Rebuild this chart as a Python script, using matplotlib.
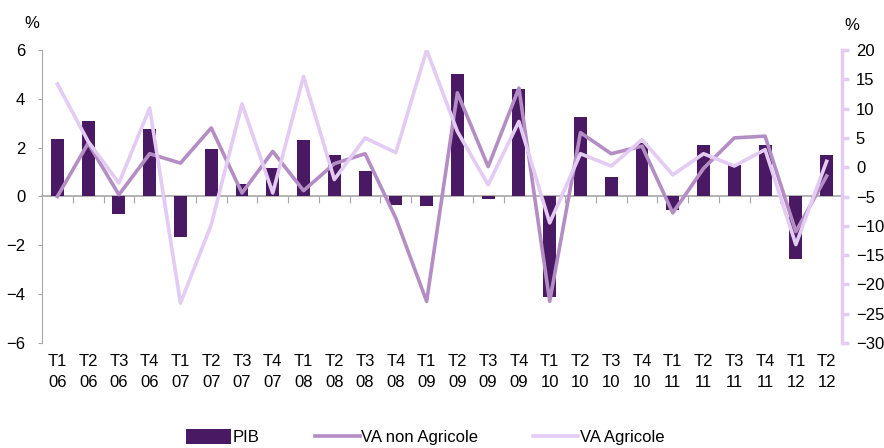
import numpy as np
import matplotlib
matplotlib.use('Agg')
import matplotlib.pyplot as plt

plt.rcParams['font.family'] = ['Liberation Sans', 'DejaVu Sans']
plt.rcParams['font.size'] = 12

quarters = ['T1', 'T2', 'T3', 'T4'] * 6 + ['T1', 'T2']
years = ['06'] * 4 + ['07'] * 4 + ['08'] * 4 + ['09'] * 4 + ['10'] * 4 + ['11'] * 4 + ['12'] * 2
labels = [q + '\n' + y for q, y in zip(quarters, years)]

pib = [2.35, 3.1, -0.7, 2.75, -1.65, 1.95, 0.5, 1.15, 2.3, 1.7, 1.05, -0.35, -0.4,
       5.0, -0.1, 4.4, -4.1, 3.25, 0.8, 2.2, -0.55, 2.1, 1.3, 2.1, -2.55, 1.7]
va_non_agri = [-5.0, 4.1, -4.7, 2.3, 0.7, 6.7, -4.4, 2.7, -4.0, 0.6, 2.3, -8.7, -22.9,
               12.7, 0.1, 13.5, -22.9, 5.9, 2.3, 3.6, -7.8, -0.2, 5.0, 5.3, -11.0, -1.5]
va_agri = [14.2, 4.4, -2.7, 10.1, -23.2, -9.8, 10.8, -4.4, 15.5, -2.1, 5.0, 2.5, 20.0,
           6.1, -3.0, 7.8, -9.5, 2.3, 0.2, 4.7, -1.3, 2.3, 0.2, 3.0, -13.2, 1.0]

c_bar = '#4a1963'
c_non = '#b48dc4'
c_agri = '#e3cbf3'
c_axis = '#a6a6a6'

x = np.arange(len(labels))

fig = plt.figure(figsize=(8.84, 4.48), dpi=100)
ax = fig.add_axes([42 / 884, 1 - 343 / 448, 800 / 884, 293 / 448])
ax2 = ax.twinx()

b = ax.bar(x, pib, width=0.42, color=c_bar, label='PIB', zorder=2)
l1, = ax2.plot(x, va_non_agri, color=c_non, lw=2.6, label='VA non Agricole')
l2, = ax2.plot(x, va_agri, color=c_agri, lw=2.6, label='VA Agricole')

ax.set_xlim(-0.5, len(labels) - 0.5)
ax.set_ylim(-6, 6)
ax.set_yticks([-6, -4, -2, 0, 2, 4, 6])
ax2.set_ylim(-30, 20)
ax2.set_yticks(range(-30, 21, 5))

ax.set_xticks(x)
ax.set_xticklabels(labels, linespacing=1.45)
ax.tick_params(axis='x', length=0, pad=8)
ax.tick_params(axis='y', length=3, color=c_axis, pad=9)

for s in ['top', 'right', 'bottom']:
    ax.spines[s].set_visible(False)
ax.spines['left'].set_color(c_axis)

for s in ['top', 'left', 'bottom']:
    ax2.spines[s].set_visible(False)
ax2.spines['right'].set_color(c_agri)
ax2.spines['right'].set_linewidth(2.5)
ax2.tick_params(axis='y', length=5, width=2.5, color=c_agri, pad=5)

# zero line with category separators
sec = ax.secondary_xaxis(0.5)
for s in sec.spines.values():
    s.set_visible(False)
sec.spines['bottom'].set_visible(True)
sec.spines['bottom'].set_color(c_axis)
sec.spines['bottom'].set_linewidth(1.2)
sec.xaxis.set_ticks_position('bottom')
sec.set_xticks(np.arange(0.5, len(labels) - 1, 1))
sec.set_xticklabels([])
sec.tick_params(axis='x', direction='out', length=5, color=c_axis)

ax.text(-0.0125, 1.09, '%', transform=ax.transAxes, ha='center', va='center')
ax2.text(1.0125, 1.085, '%', transform=ax2.transAxes, ha='center', va='center')

fig.legend([b, l1, l2], ['PIB', 'VA non Agricole', 'VA Agricole'],
           loc='lower center', bbox_to_anchor=(0.481, -0.027), ncol=3, frameon=False,
           handlelength=2.7, handleheight=1.0, handletextpad=0.1, columnspacing=3.3)

fig.savefig('out.png', dpi=100)
